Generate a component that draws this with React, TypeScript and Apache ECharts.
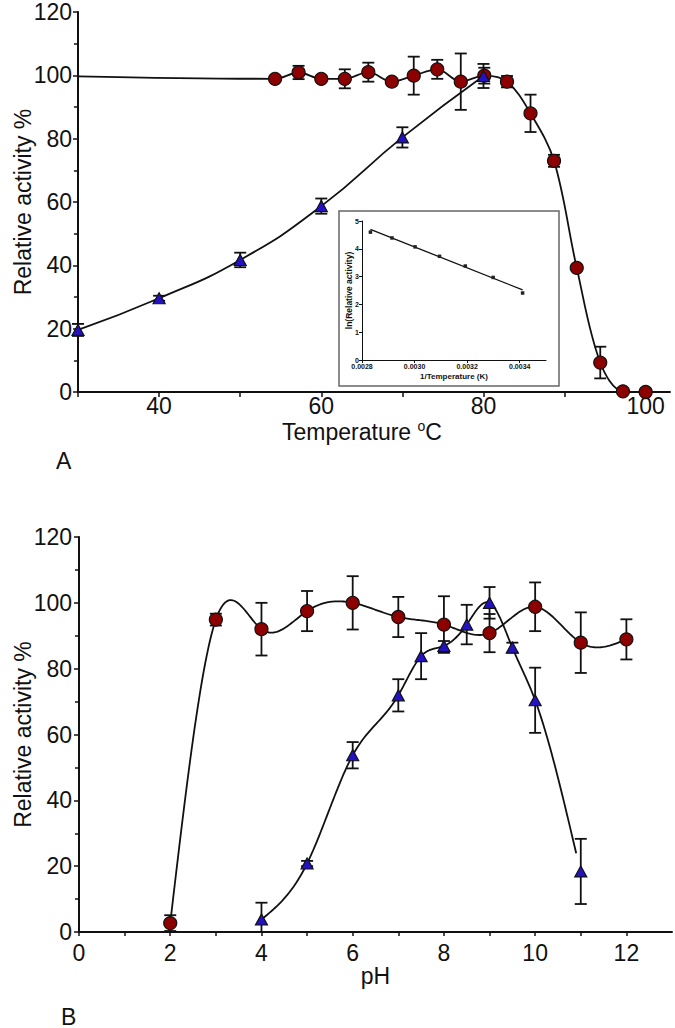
import React, { useEffect, useRef } from "react";
import * as echarts from "echarts";

// ---------- Panel A: temperature ----------
const thermoTemp = [54.3, 57.2, 60.0, 62.9, 65.8, 68.7, 71.4, 74.3, 77.2, 80.1, 82.9, 85.8, 88.7, 91.5, 94.4, 97.2, 100.0];
const thermoAct = [98.9, 100.9, 98.9, 98.9, 101.0, 98.0, 99.9, 101.9, 98.0, 99.9, 98.0, 88.0, 73.0, 39.2, 9.3, 0.2, 0.0];
const thermoErr = [0, 2.1, 0, 3.0, 3.0, 0, 6.0, 3.0, 8.9, 2.5, 1.8, 5.9, 1.9, 0, 5.0, 0, 0];
const thermoCurveStart = [30, 99.7];

const optTemp = [30, 40, 50, 60, 70, 80];
const optTempAct = [19.6, 29.6, 41.7, 58.7, 80.4, 99.8];
const optTempErr = [1.9, 0.8, 2.3, 2.4, 3.2, 3.8];

const tempTicks = [30, 40, 50, 60, 70, 80, 90, 100];
const tempLabels = [40, 60, 80, 100];

// ---------- Inset: Arrhenius plot ----------
const invTemp = [0.002832, 0.002914, 0.003002, 0.003095, 0.003193, 0.003299, 0.003411];
const lnAct = [4.6, 4.39, 4.07, 3.73, 3.38, 2.97, 2.41];
const fitInvTemp = [0.002832, 0.003411];
const fitLnAct = [4.7, 2.52];
const invTempLabels = [0.0028, 0.003, 0.0032, 0.0034];

// ---------- Panel B: pH ----------
const stabPH = [2, 3, 4, 5, 6, 7, 8, 9, 10, 11, 12];
const stabAct = [2.7, 94.9, 92.0, 97.5, 100.0, 95.7, 93.4, 90.8, 98.8, 87.9, 88.9];
const stabErr = [2.4, 1.8, 8.0, 6.1, 8.1, 6.1, 8.6, 5.8, 7.4, 9.2, 6.1];

const optPH = [4, 5, 6, 7, 7.5, 8, 8.5, 9, 9.5, 10, 11];
const optPHAct = [3.8, 20.8, 53.7, 71.9, 83.8, 86.9, 93.4, 100.0, 86.4, 70.4, 18.4];
const optPHErr = [5.1, 0.8, 4.0, 4.9, 7.0, 1.5, 6.0, 4.8, 1.5, 9.9, 9.9];
const optPHCurveEnd = [10.9, 23.9];

const phTicks = [0, 1, 2, 3, 4, 5, 6, 7, 8, 9, 10, 11, 12];
const phLabels = [0, 2, 4, 6, 8, 10, 12];

const INK = "#111";
const RED = "#8c0000";
const BLUE = "#2212c4";
const FONT = "'Liberation Sans', Arial, Helvetica, sans-serif";

const pairs = (xs: number[], ys: number[]) => xs.map((x, i) => [x, ys[i]]);

// natural cubic spline through pixel-space points (x increasing)
function splinePolyline(pts: number[][], steps: number) {
  const n = pts.length;
  const x = pts.map((p) => p[0]);
  const y = pts.map((p) => p[1]);
  const h: number[] = [];
  for (let i = 0; i < n - 1; i++) h.push(x[i + 1] - x[i]);
  const a: number[] = [], b: number[] = [], c: number[] = [], d: number[] = [];
  for (let i = 1; i < n - 1; i++) {
    a.push(h[i - 1]);
    b.push(2 * (h[i - 1] + h[i]));
    c.push(h[i]);
    d.push(6 * ((y[i + 1] - y[i]) / h[i] - (y[i] - y[i - 1]) / h[i - 1]));
  }
  const m = a.length;
  for (let i = 1; i < m; i++) {
    const w = a[i] / b[i - 1];
    b[i] -= w * c[i - 1];
    d[i] -= w * d[i - 1];
  }
  const inner: number[] = new Array(m).fill(0);
  for (let i = m - 1; i >= 0; i--) inner[i] = (d[i] - (i < m - 1 ? c[i] * inner[i + 1] : 0)) / b[i];
  const M = [0, ...inner, 0];
  const out: number[][] = [];
  for (let i = 0; i < n - 1; i++) {
    for (let s = 0; s < steps; s++) {
      const t = s / steps;
      const A = 1 - t;
      const B = t;
      const yy = A * y[i] + B * y[i + 1] + ((A * A * A - A) * M[i] + (B * B * B - B) * M[i + 1]) * (h[i] * h[i]) / 6;
      out.push([x[i] + t * h[i], yy]);
    }
  }
  out.push(pts[n - 1]);
  return out;
}

function splineSeries(data: number[][], axisIndex: number) {
  return {
    type: "custom",
    xAxisIndex: axisIndex,
    yAxisIndex: axisIndex,
    encode: { x: 0, y: 1 },
    data,
    silent: true,
    z: 2,
    renderItem: (params: any, api: any) => {
      if (params.dataIndex !== 0) return { type: "group", children: [] };
      const pts = data.map((p) => api.coord(p));
      return {
        type: "polyline",
        shape: { points: splinePolyline(pts, 30) },
        style: { stroke: INK, lineWidth: 1.8, fill: null },
      };
    },
  };
}

function errorBars(xs: number[], ys: number[], es: number[], axisIndex: number, cap: number, z: number) {
  const data: number[][] = [];
  xs.forEach((x, i) => {
    if (es[i] > 0) data.push([x, Math.max(0, ys[i] - es[i]), ys[i] + es[i]]);
  });
  return {
    type: "custom",
    xAxisIndex: axisIndex,
    yAxisIndex: axisIndex,
    encode: { x: 0, y: [1, 2] },
    data,
    silent: true,
    z,
    renderItem: (_p: any, api: any) => {
      const lo = api.coord([api.value(0), api.value(1)]);
      const hi = api.coord([api.value(0), api.value(2)]);
      const style = { stroke: INK, lineWidth: 1.8 };
      return {
        type: "group",
        children: [
          { type: "line", shape: { x1: lo[0], y1: lo[1], x2: hi[0], y2: hi[1] }, style },
          { type: "line", shape: { x1: lo[0] - cap, y1: lo[1], x2: lo[0] + cap, y2: lo[1] }, style },
          { type: "line", shape: { x1: hi[0] - cap, y1: hi[1], x2: hi[0] + cap, y2: hi[1] }, style },
        ],
      };
    },
  };
}

function activityAxis(gridIndex: number, nameGap: number, margin: number) {
  return {
    type: "value",
    gridIndex,
    min: 0,
    max: 120,
    interval: 20,
    axisLine: { show: true, lineStyle: { color: INK, width: 2 } },
    axisTick: { show: true, length: 5, lineStyle: { color: INK, width: 1.5 } },
    minorTick: { show: true, splitNumber: 2, length: 4, lineStyle: { color: INK, width: 1.5 } },
    axisLabel: { fontSize: 23, color: INK, fontFamily: FONT, margin },
    splitLine: { show: false },
    name: "Relative activity %",
    nameLocation: "middle",
    nameGap,
    nameRotate: 90,
    nameMoveOverlap: false,
    nameTextStyle: { fontSize: 23, color: INK, fontFamily: FONT },
  };
}

const lineStyle = { color: INK, width: 1.8 };

export default function App() {
  const ref = useRef<HTMLDivElement>(null);
  useEffect(() => {
    if (!ref.current) return;
    const chart = echarts.init(ref.current, null, { renderer: "svg" });
    const option: any = {
      animation: false,
      backgroundColor: "#fff",
      grid: [
        { left: 78, top: 12, width: 592, height: 380, outerBoundsMode: "none" },
        { left: 362, top: 221, width: 184, height: 139, outerBoundsMode: "none" },
        { left: 79, top: 537, width: 593, height: 395, outerBoundsMode: "none" },
      ],
      xAxis: [
        {
          type: "value",
          gridIndex: 0,
          min: 30,
          max: 103,
          axisLine: { show: true, lineStyle: { color: INK, width: 2 } },
          axisTick: { show: true, customValues: tempTicks, length: 5, lineStyle: { color: INK, width: 1.5 } },
          axisLabel: { customValues: tempLabels, fontSize: 23, lineHeight: 14, color: INK, fontFamily: FONT, margin: 7 },
          splitLine: { show: false },
          name: "{t|Temperature }{s|o}{t|C}",
          nameLocation: "middle",
          nameGap: 27,
          nameMoveOverlap: false,
          nameTextStyle: {
            padding: [0, 24, 0, 0],
            rich: {
              t: { fontSize: 23, color: INK, fontFamily: FONT, lineHeight: 26 },
              s: { fontSize: 14, color: INK, fontFamily: FONT, lineHeight: 14, verticalAlign: "top" },
            },
          },
        },
        {
          type: "value",
          gridIndex: 1,
          min: 0.0028,
          max: 0.0035,
          axisLine: { show: true, lineStyle: { color: INK, width: 1 } },
          axisTick: { show: true, customValues: invTempLabels, length: 3, lineStyle: { color: INK, width: 1 } },
          axisLabel: {
            customValues: invTempLabels,
            formatter: (v: number) => v.toFixed(4),
            fontSize: 7,
            fontWeight: "bold",
            color: INK,
            fontFamily: FONT,
            margin: 3,
          },
          splitLine: { show: false },
          name: "1/Temperature (K)",
          nameLocation: "middle",
          nameGap: 12,
          nameMoveOverlap: false,
          nameTextStyle: { fontSize: 8, fontWeight: "bold", color: INK, fontFamily: FONT },
          z: 3,
        },
        {
          type: "value",
          gridIndex: 2,
          min: 0,
          max: 13,
          axisLine: { show: true, lineStyle: { color: INK, width: 2 } },
          axisTick: { show: true, customValues: phTicks, length: 4, lineStyle: { color: INK, width: 1.5 } },
          axisLabel: { customValues: phLabels, fontSize: 23, color: INK, fontFamily: FONT, margin: 9 },
          splitLine: { show: false },
          name: "pH",
          nameLocation: "middle",
          nameGap: 32,
          nameMoveOverlap: false,
          nameTextStyle: { fontSize: 23, color: INK, fontFamily: FONT },
        },
      ],
      yAxis: [
        activityAxis(0, 44, 6),
        {
          type: "value",
          gridIndex: 1,
          min: 0,
          max: 5,
          interval: 1,
          axisLine: { show: true, lineStyle: { color: INK, width: 1 } },
          axisTick: { show: true, length: 3, lineStyle: { color: INK, width: 1 } },
          axisLabel: { fontSize: 7, fontWeight: "bold", color: INK, fontFamily: FONT, margin: 3 },
          splitLine: { show: false },
          name: "ln(Relative activity)",
          nameLocation: "middle",
          nameGap: 9,
          nameRotate: 90,
          nameMoveOverlap: false,
          nameTextStyle: { fontSize: 8.5, fontWeight: "bold", color: INK, fontFamily: FONT },
          z: 3,
        },
        activityAxis(2, 45, 7),
      ],
      graphic: [
        {
          type: "rect",
          z: -1,
          silent: true,
          shape: { x: 339, y: 211, width: 220, height: 175 },
          style: { fill: "rgba(255,255,255,0)", stroke: "#666", lineWidth: 1.5 },
        },
        {
          type: "text",
          z: 1,
          style: { text: "A", x: 56, y: 449, fontSize: 23, fontFamily: FONT, fill: INK, textVerticalAlign: "top", verticalAlign: "top" },
        },
        {
          type: "text",
          z: 1,
          style: { text: "B", x: 61, y: 1005, fontSize: 23, fontFamily: FONT, fill: INK, textVerticalAlign: "top", verticalAlign: "top" },
        },
      ],
      series: [
        // Panel A curves
        {
          type: "line",
          xAxisIndex: 0,
          yAxisIndex: 0,
          data: [thermoCurveStart, ...pairs(thermoTemp, thermoAct)],
          smooth: 0.35,
          symbol: "none",
          lineStyle,
          z: 2,
        },
        {
          type: "line",
          xAxisIndex: 0,
          yAxisIndex: 0,
          data: pairs(optTemp, optTempAct),
          smooth: 0.5,
          symbol: "none",
          lineStyle,
          z: 2,
        },
        errorBars(thermoTemp, thermoAct, thermoErr, 0, 6, 3),
        errorBars(optTemp, optTempAct, optTempErr, 0, 6, 3),
        {
          type: "scatter",
          xAxisIndex: 0,
          yAxisIndex: 0,
          data: pairs(thermoTemp, thermoAct),
          symbol: "circle",
          symbolSize: 13,
          itemStyle: { color: RED, borderColor: INK, borderWidth: 1.2, opacity: 1 },
          z: 4,
        },
        {
          type: "scatter",
          xAxisIndex: 0,
          yAxisIndex: 0,
          data: pairs(optTemp, optTempAct),
          symbol: "triangle",
          symbolSize: [12, 11],
          itemStyle: { color: BLUE, borderColor: INK, borderWidth: 1.2, opacity: 1 },
          z: 5,
        },
        // Inset
        {
          type: "line",
          xAxisIndex: 1,
          yAxisIndex: 1,
          data: pairs(fitInvTemp, fitLnAct),
          symbol: "none",
          lineStyle: { color: INK, width: 1.3 },
          z: 6,
        },
        {
          type: "scatter",
          xAxisIndex: 1,
          yAxisIndex: 1,
          data: pairs(invTemp, lnAct),
          symbol: "rect",
          symbolSize: 3.5,
          itemStyle: { color: "#222", opacity: 1 },
          z: 7,
        },
        // Panel B curves (cubic spline through the points)
        splineSeries(pairs(stabPH, stabAct), 2),
        splineSeries([...pairs(optPH.slice(0, 10), optPHAct.slice(0, 10)), optPHCurveEnd], 2),
        errorBars(stabPH, stabAct, stabErr, 2, 6, 3),
        errorBars(optPH, optPHAct, optPHErr, 2, 6, 3),
        {
          type: "scatter",
          xAxisIndex: 2,
          yAxisIndex: 2,
          data: pairs(stabPH, stabAct),
          symbol: "circle",
          symbolSize: 13,
          itemStyle: { color: RED, borderColor: INK, borderWidth: 1.2, opacity: 1 },
          z: 4,
        },
        {
          type: "scatter",
          xAxisIndex: 2,
          yAxisIndex: 2,
          data: pairs(optPH, optPHAct),
          symbol: "triangle",
          symbolSize: [12, 11],
          itemStyle: { color: BLUE, borderColor: INK, borderWidth: 1.2, opacity: 1 },
          z: 5,
        },
      ],
    };
    chart.setOption(option);
    return () => chart.dispose();
  }, []);
  return (
    <div
      ref={ref}
      style={{ position: "absolute", left: 0, top: 0, width: 675, height: 1028, background: "#fff" }}
    />
  );
}
